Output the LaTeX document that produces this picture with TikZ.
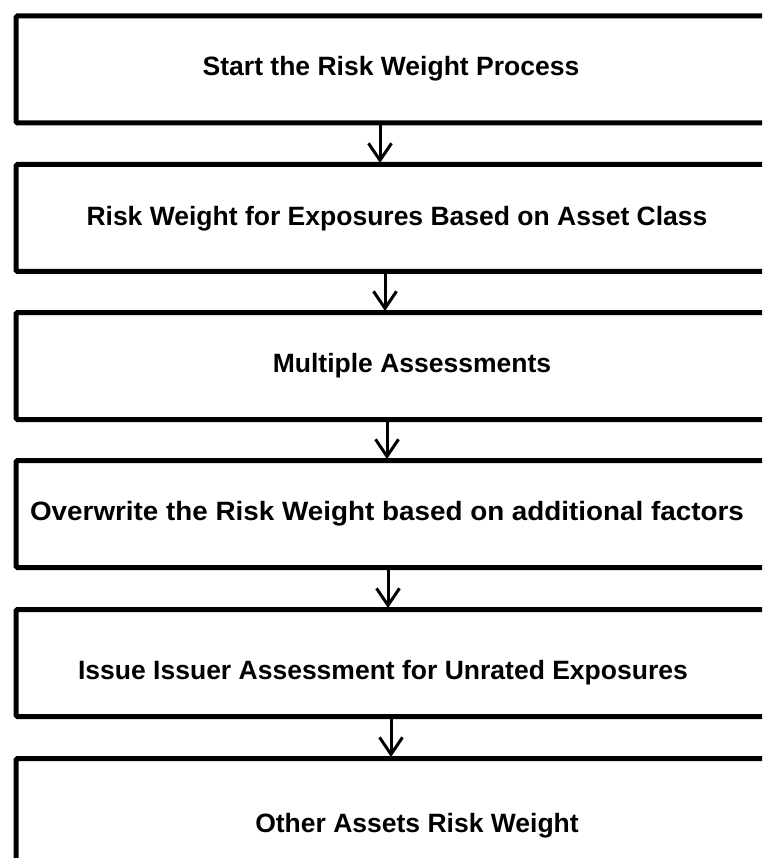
\documentclass[tikz,border=0pt]{standalone}
\usepackage{fontspec}
\setmainfont{Liberation Sans}
\usetikzlibrary{arrows.meta}
\tikzset{
  stepbox/.style={draw=black, line width=5pt, rounded corners=1.5pt, fill=white,
    minimum width=800pt, minimum height=107pt, anchor=north west, inner sep=0pt},
  lbl/.style={font=\bfseries\fontsize{26.5}{30}\selectfont, anchor=base, inner sep=0pt},
  arr/.style={line width=3pt, -{Straight Barb[length=17pt,width=23pt,line width=3pt]}}
}
\begin{document}
\begin{tikzpicture}[x=1pt,y=-1pt]
\useasboundingbox (0,0) rectangle (762,858);
\clip (0,0) rectangle (762,858);
\node[stepbox] (b1) at (13.5,13.5) {};
\node[stepbox] (b2) at (13.5,162) {};
\node[stepbox] (b3) at (13.5,310) {};
\node[stepbox] (b4) at (13.5,458) {};
\node[stepbox] (b5) at (13.5,607) {};
\node[stepbox] (b6) at (13.5,756) {};
\node[lbl] (t1) at (391,76) {Start the Risk Weight Process};
\node[lbl] (t2) at (397,226) {Risk Weight for Exposures Based on Asset Class};
\node[lbl] (t3) at (412,372) {Multiple Assessments};
\node[lbl, xscale=1.05] (t4) at (387,520) {Overwrite the Risk Weight based on additional factors};
\node[lbl] (t5) at (383,679) {Issue Issuer Assessment for Unrated Exposures};
\node[lbl] (t6) at (417,832) {Other Assets Risk Weight};
\coordinate (x1) at (380,0);
\coordinate (x2) at (385,0);
\coordinate (x3) at (387,0);
\coordinate (x4) at (388,0);
\coordinate (x5) at (391,0);
\draw[arr] (b1.south -| x1) -- ([yshift=-1pt]b2.north -| x1);
\draw[arr] (b2.south -| x2) -- ([yshift=-1pt]b3.north -| x2);
\draw[arr] (b3.south -| x3) -- ([yshift=-1pt]b4.north -| x3);
\draw[arr] (b4.south -| x4) -- ([yshift=-1pt]b5.north -| x4);
\draw[arr] (b5.south -| x5) -- ([yshift=-1pt]b6.north -| x5);
\end{tikzpicture}
\end{document}
